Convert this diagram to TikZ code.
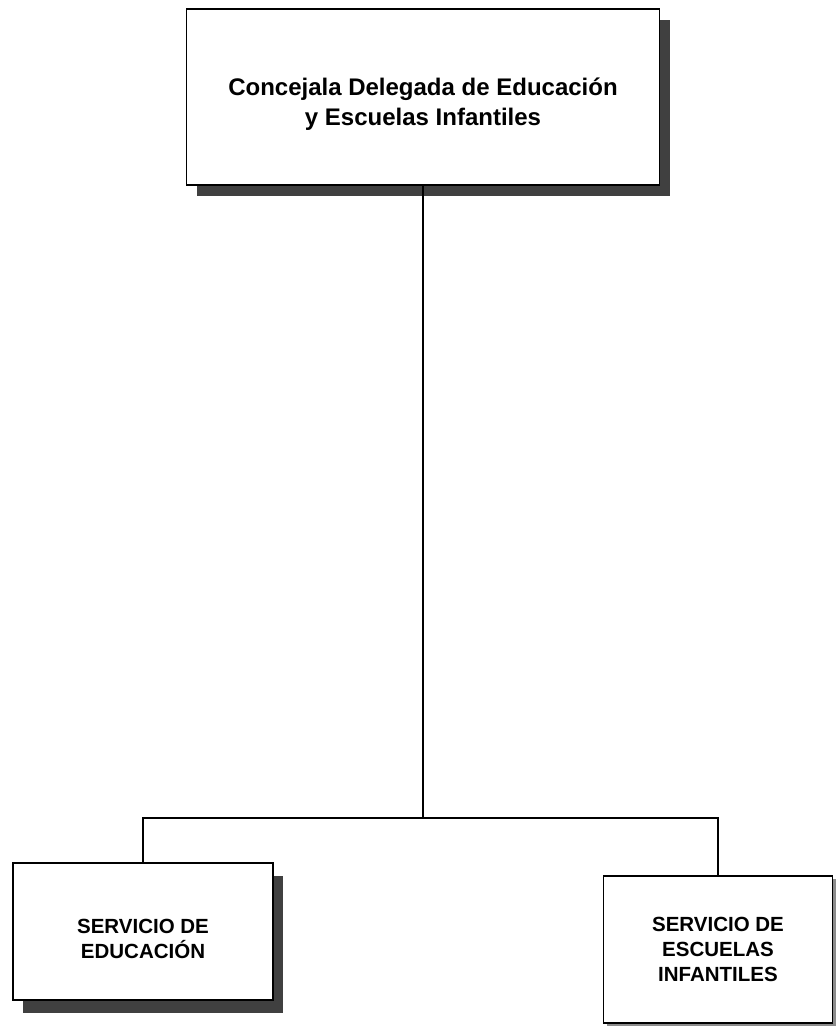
\documentclass[tikz,border=0pt]{standalone}
\usepackage{fontspec}
\setmainfont{Liberation Sans}
\usetikzlibrary{shadows}
\tikzset{
  orgbox/.style={draw=black, line width=1.1pt, fill=white, inner sep=0pt, align=center},
  darkshadow/.style={drop shadow={shadow xshift=10pt, shadow yshift=-#1pt, fill=black!75, opacity=1}},
  lightshadow/.style={drop shadow={shadow xshift=3pt, shadow yshift=-3pt, fill=black!45, opacity=1}},
  conn/.style={draw=black, line width=1.4pt},
  topfont/.style={font=\fontsize{24}{30}\selectfont\bfseries},
  labfont/.style={font=\fontsize{20.5}{25}\selectfont\bfseries}
}
\begin{document}
\begin{tikzpicture}[x=1pt,y=-1pt]
\useasboundingbox (0,0) rectangle (835,1027);
\node[orgbox, topfont, darkshadow=11, minimum width=473pt, minimum height=176pt]
  (top) at (423,97) {\rule{0pt}{32pt}Concejala Delegada de Educación\\y Escuelas Infantiles};
\node[orgbox, labfont, darkshadow=13, minimum width=260pt, minimum height=137pt]
  (edu) at (143,931.5) {\rule{0pt}{30pt}SERVICIO DE\\EDUCACIÓN};
\node[orgbox, labfont, lightshadow, minimum width=229pt, minimum height=147pt]
  (esc) at (718,949.5) {SERVICIO DE\\ESCUELAS\\INFANTILES};
\coordinate (j) at (423,818);
\draw[conn] (top.south) -- (j);
\draw[conn] (edu.north) -- (edu.north |- j) -- (esc.north |- j) -- (esc.north);
\end{tikzpicture}
\end{document}
